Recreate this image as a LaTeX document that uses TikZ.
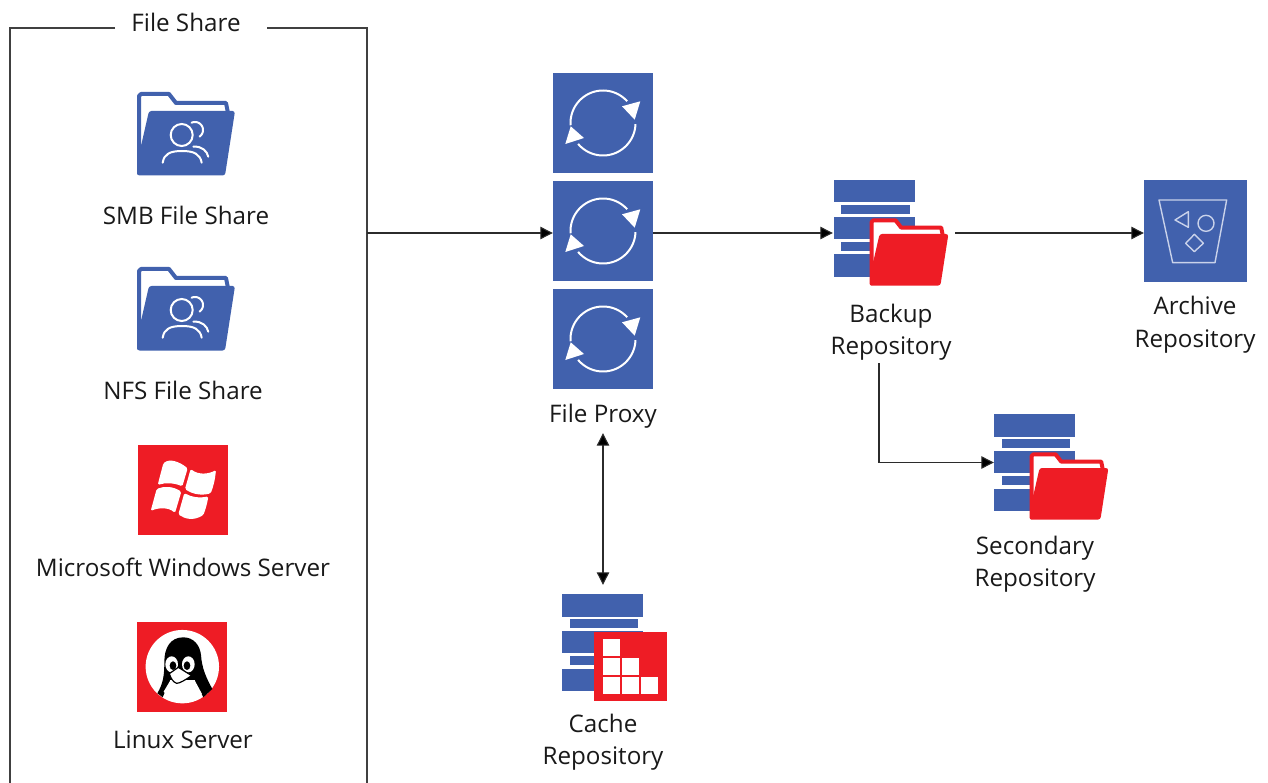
\documentclass[tikz,border=0pt]{standalone}
\usepackage{fontspec}
\setmainfont{Open Sans}
\usetikzlibrary{arrows.meta}
\definecolor{iconblue}{HTML}{4161AD}
\definecolor{iconred}{HTML}{EE1C25}
\definecolor{inkline}{HTML}{2B2B2B}
\definecolor{frameink}{HTML}{404040}
\definecolor{paleline}{HTML}{C9D2EA}
\tikzset{
  lbl/.style={inner sep=0pt,align=center,text=black!90,font=\fontsize{24.2}{32.5}\selectfont},
  conn/.style={draw=inkline,line width=1.1pt,-{Triangle[length=12.5pt,width=12.5pt,fill=black]}},
  connboth/.style={draw=inkline,line width=1.1pt,{Triangle[length=12.5pt,width=12.5pt,fill=black]}-{Triangle[length=12.5pt,width=12.5pt,fill=black]}},
  framel/.style={draw=frameink,line width=1.1pt},
  square/.style={inner sep=0pt,minimum width=100pt,minimum height=100pt,fill=iconblue,draw=none},
  pane/.style={fill=white,rounded corners=1.5pt},
  pics/folder/.style={code={
    \fill[white] (2,3) -- (33,3) -- (40,12) -- (90,12) -- (90,40) -- (2,84) -- cycle;
    \draw[#1,line width=4pt,line join=round,line cap=round] (2,82) -- (2,5) -- (4,3) -- (32,3) -- (39,12) -- (89,12) -- (91,22);
    \fill[#1,rounded corners=2.5pt] (12,20) -- (98,20) -- (88,84.5) -- (0,84.5) -- (0,60) -- (4,55) -- cycle;
  }},
  pics/people/.style={code={
    \draw[white,line width=2pt,line cap=round] (44.7,44) circle (11);
    \draw[white,line width=2pt,line cap=round] plot[domain=115:-55,samples=30] ({58+8*cos(\x)},{39-8*sin(\x)});
    \draw[white,line width=2pt,line cap=round] (25.7,71.7) .. controls (27,63) and (33,60) .. (45,60) .. controls (57,60) and (63,63) .. (64.7,71.7);
    \draw[white,line width=2pt,line cap=round] (56.3,55.7) .. controls (65,55) and (70,60) .. (71.3,65.7);
  }},
  pics/stack/.style={code={
    \fill[iconblue] (0,0) rectangle (81,22.5);
    \fill[iconblue] (7.5,25) rectangle (76,34);
    \fill[iconblue] (0,37) rectangle (81,59);
    \fill[iconblue] (7.5,62) rectangle (76,71);
    \fill[iconblue] (0,74.5) rectangle (81,97);
  }},
  pics/sync/.style={code={
    \draw[white,line width=2pt] plot[domain=184:42,samples=40] ({32.5*cos(\x)},{-32.5*sin(\x)});
    \fill[white] (19,-16.7) -- (37.3,-21.7) -- (31.7,-3.3) -- cycle;
    \draw[white,line width=2pt] plot[domain=-2:-140,samples=40] ({32.5*cos(\x)},{-32.5*sin(\x)});
    \fill[white] (-32.3,3.3) -- (-19,15) -- (-37.7,21) -- cycle;
  }}
}
\begin{document}
\begin{tikzpicture}[x=1pt,y=-1pt]
\useasboundingbox (0,0) rectangle (1268,783);
% file share frame
\node[lbl] (sharetitle) at (186,22) {File Share};
\coordinate (frametl) at (115,28);
\coordinate (frametr) at (267,28);
\coordinate (framebl) at (10,783);
\coordinate (framebr) at (367,783);
\coordinate (shareout) at (367,233);
\draw[framel] (frametl) -| (framebl);
\draw[framel] (frametr) -| (framebr);
% file share members
\pic at (137,91) {folder=iconblue};
\pic at (137,91) {people};
\node[lbl] (smb) at (186,215) {SMB File Share};
\pic at (137,266) {folder=iconblue};
\pic at (137,266) {people};
\node[lbl] (nfs) at (183,390) {NFS File Share};
% windows
\node[inner sep=0pt,minimum width=90pt,minimum height=90pt,fill=iconred] (winicon) at (183,490) {};
\begin{scope}[shift={(120,435)},x=.3333pt,y=-.3333pt]
  \path[pane] (130,85) .. controls (150,70) and (178,80) .. (203,100) -- (187,154) .. controls (160,143) and (135,143) .. (113,150) -- cycle;
  \path[pane] (212,102) .. controls (235,120) and (265,118) .. (288,105) .. controls (285,135) and (280,155) .. (272,175) .. controls (245,182) and (218,178) .. (195,162) -- cycle;
  \path[pane] (110,162) .. controls (135,152) and (160,155) .. (184,170) -- (165,234) .. controls (145,216) and (115,218) .. (92,228) -- cycle;
  \path[pane] (193,174) .. controls (215,187) and (240,190) .. (265,184) .. controls (262,205) and (256,225) .. (250,240) .. controls (220,258) and (195,252) .. (175,238) -- cycle;
\end{scope}
\node[lbl] (win) at (183,567) {Microsoft Windows Server};
% linux
\node[inner sep=0pt,minimum width=90pt,minimum height=90pt,fill=iconred] (linicon) at (182,666.5) {};
\begin{scope}[shift={(120,435)},x=.3333pt,y=-.3333pt]
  \fill[white] (187,695) circle (36.7pt);
  \fill[black] (190,607) .. controls (150,607) and (133,640) .. (133,680) .. controls (133,720) and (130,745) .. (112,775) -- (128,787) .. controls (134,772) and (142,757) .. (150,745) -- (225,745) .. controls (235,760) and (243,772) .. (250,787) -- (277,762) .. controls (257,725) and (246,700) .. (243,660) .. controls (240,630) and (220,607) .. (190,607) -- cycle;
  \fill[white] (155,688) ellipse (19 and 24);
  \fill[white] (205,688) ellipse (19 and 24);
  \fill[black] (159,692) ellipse (10 and 13);
  \fill[black] (201,692) ellipse (10 and 13);
  \fill[white] (150,735) rectangle (225,790);
  \fill[white] (131,770) -- (150,738) -- (225,738) -- (246,777) -- (200,800) -- (150,795) -- cycle;
  \draw[black,fill=white,line width=1.2pt,line join=round] (148,716) -- (175,697) -- (215,722) .. controls (195,735) and (180,745) .. (170,745) .. controls (160,742) and (152,730) .. (148,716) -- cycle;
\end{scope}
\node[lbl] (lin) at (183,740) {Linux Server};
% proxy
\node[square] (proxya) at (603,123) {};
\node[square] (proxyb) at (603,231) {};
\node[square] (proxyc) at (603,339) {};
\pic at (proxya.center) {sync};
\pic at (proxyb.center) {sync};
\pic at (proxyc.center) {sync};
\node[lbl,minimum height=34pt] (proxylabel) at (603,416) {File Proxy};
% backup
\node[inner sep=0pt,minimum width=122pt,minimum height=106pt] (backupicon) at (894,233) {};
\pic at (833.5,180) {stack};
\pic[scale=.8] at (870,218) {folder=iconred};
\node[lbl,minimum height=62pt] (backuplabel) at (891,332) {Backup\\Repository};
% archive
\node[inner sep=0pt,minimum width=103pt,minimum height=102pt,fill=iconblue] (archive) at (1195.5,231) {};
\begin{scope}[shift={(1135,170)},x=.3333pt,y=-.3333pt]
  \draw[paleline,line width=1.4pt,line join=round] (72,90) -- (275,90) -- (240,278) -- (113,278) -- cycle;
  \draw[paleline,line width=1.4pt,line join=round] (160,125) -- (120,150) -- (160,172) -- cycle;
  \draw[paleline,line width=1.4pt] (213,160) circle (8pt);
  \draw[paleline,line width=1.4pt,line join=round] (178,193) -- (205,220) -- (178,245) -- (152,220) -- cycle;
\end{scope}
\node[lbl] (archivelabel) at (1195,324.5) {Archive\\Repository};
% secondary
\node[inner sep=0pt,minimum width=114pt,minimum height=97pt] (secondaryicon) at (1051,462.5) {};
\pic at (994,414) {stack};
\pic[scale=.8] at (1030,452) {folder=iconred};
\node[lbl] (secondarylabel) at (1035,564) {Secondary\\Repository};
% cache
\node[inner sep=0pt,minimum width=105pt,minimum height=116pt] (cacheicon) at (603,643) {};
\pic at (562,594) {stack};
\node[inner sep=0pt,minimum width=73pt,minimum height=69pt,fill=iconred] (cachered) at (630.5,666.5) {};
\foreach \cx/\cy in {603/639,603/658,622/658,603/677,622/677,641/677}
  \fill[white] (\cx,\cy) rectangle ++(16.5,16.5);
\node[lbl] (cachelabel) at (603,742) {Cache\\Repository};
% connectors
\draw[conn] (shareout) -- (shareout -| proxyb.west);
\draw[conn] (proxyb.east |- shareout) -- (backupicon.west);
\draw[conn] (backupicon.east) -- (backupicon.east -| archive.west);
\draw[conn] ([xshift=-12pt]backuplabel.south) |- (secondaryicon.west);
\draw[connboth] (proxylabel.south) -- (cacheicon.north);
\end{tikzpicture}
\end{document}
